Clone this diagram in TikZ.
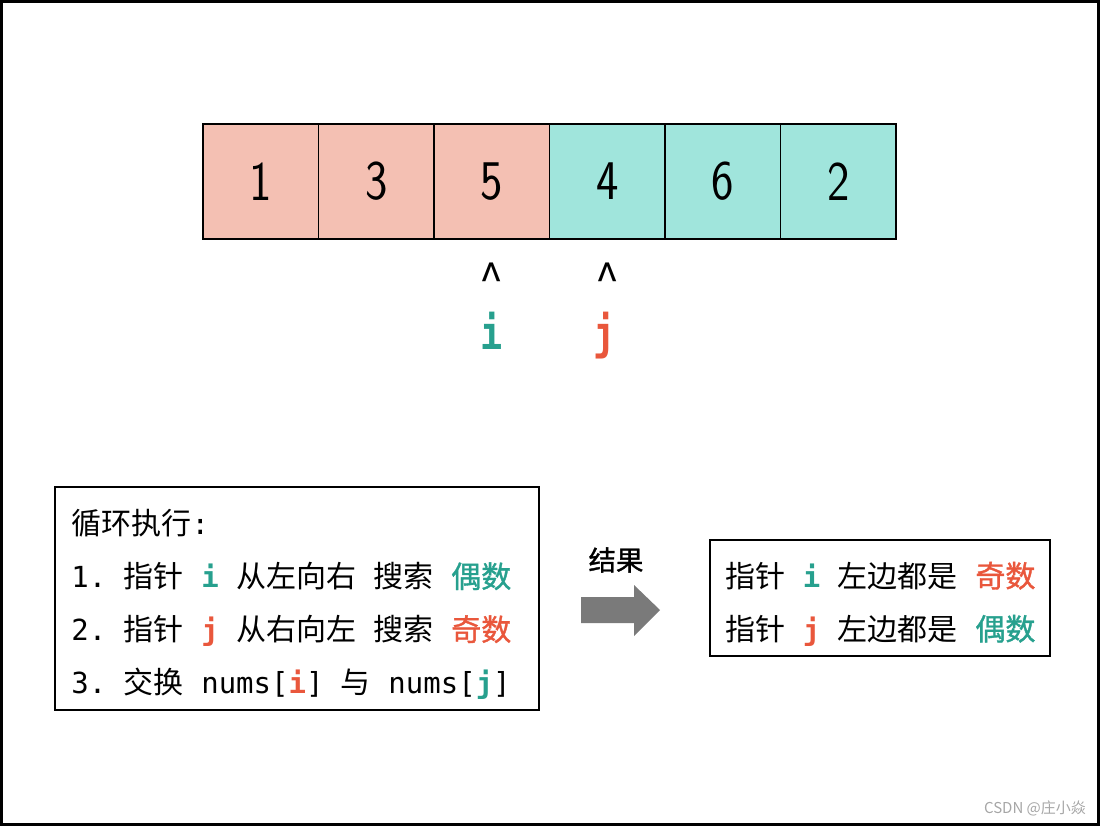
\documentclass[tikz,border=0pt]{standalone}
\usepackage{fontspec}
\usepackage{graphicx}
\setmonofont{DejaVu Sans Mono}
\newfontfamily\zhfont[Scale=1.035]{Noto Sans CJK SC}
\newfontfamily\zhbold[Scale=1.035,FakeBold=1.2]{Noto Sans CJK SC}
\newfontfamily\wmfont{Noto Sans CJK SC}

\definecolor{oddfill}{HTML}{F4C0B3}
\definecolor{evenfill}{HTML}{A0E5DC}
\definecolor{tealtxt}{HTML}{27A08E}
\definecolor{orangetxt}{HTML}{E9573C}
\definecolor{arrowgray}{HTML}{7A7A7A}

\newcommand{\zh}[1]{{\zhfont #1}}
\newcommand{\zhc}[2]{{\zhbold\color{#1}#2}}
\newcommand{\ptr}[2]{{\bfseries\color{#1}#2}}

\tikzset{
  cell/.style={draw, line width=1.5pt, minimum width=115.5pt, minimum height=115pt,
    inner sep=0pt, font=\fontsize{56}{56}\selectfont\sffamily},
  frame/.style={draw, line width=1.5pt, inner sep=0pt},
  lines/.style={align=left, inner sep=0pt, font=\fontsize{29}{53}\selectfont\ttfamily},
}

\begin{document}
\begin{tikzpicture}[x=1pt,y=-1pt]
  \useasboundingbox (0,0) rectangle (1100,826);
  % Marco exterior
  \draw[line width=3pt] (1.5,1.5) rectangle (1098.5,824.5);

  % Dibujar el arreglo
  \foreach \v/\col [count=\k] in {1/oddfill,3/oddfill,5/oddfill,4/evenfill,6/evenfill,2/evenfill}
    \node (c\k) [cell, fill=\col] at ({203+115.5*(\k-0.5)},181.5) {\scalebox{0.85}[1]{\v}};

  % Punteros i y j
  \node (capi) [anchor=base, font=\fontsize{42}{42}\selectfont\zhfont] at (c3.center |- 0,296) {\textasciicircum};
  \node (capj) [anchor=base, font=\fontsize{42}{42}\selectfont\zhfont] at (c4.center |- 0,296) {\textasciicircum};
  \node (ptri) [anchor=base, font=\fontsize{46}{46}\selectfont\ttfamily\bfseries, text=tealtxt] at (492,349) {\scalebox{0.8}[1]{i}};
  \node (ptrj) [anchor=base, font=\fontsize{46}{46}\selectfont\ttfamily\bfseries, text=orangetxt] at (605,349) {\scalebox{0.8}[1]{j}};

  % Recuadro de pasos
  \node (stepsbox) [frame, minimum width=484pt, minimum height=223pt] at (297,598.5) {};
  \node (steps) [lines, anchor=west] at ([xshift=17pt,yshift=-6pt]stepsbox.west) {%
    \zh{循环执行}:\\
    1. \zh{指针} \ptr{tealtxt}{i} \zh{从左向右} \zh{搜索} \zhc{tealtxt}{偶数}\\
    2. \zh{指针} \ptr{orangetxt}{j} \zh{从右向左} \zh{搜索} \zhc{orangetxt}{奇数}\\
    3. \zh{交换} nums[\ptr{orangetxt}{i}] \zh{与} nums[\ptr{tealtxt}{j}]};

  % Flecha de resultado
  \node (result) [font=\fontsize{26.5}{26.5}\selectfont\zhbold] at (616,560) {结果};
  \fill[arrowgray] (581,597) -- (634,597) -- (634,585) -- (660,610) -- (634,636) -- (634,623) -- (581,623) -- cycle;

  % Recuadro final
  \node (finalbox) [frame, minimum width=340pt, minimum height=116pt] at (880,598) {};
  \node (final) [lines, anchor=west] at ([xshift=16pt,yshift=-6pt]finalbox.west) {%
    \zh{指针} \ptr{tealtxt}{i} \zh{左边都是} \zhc{orangetxt}{奇数}\\
    \zh{指针} \ptr{orangetxt}{j} \zh{左边都是} \zhc{tealtxt}{偶数}};

  % Marca de agua
  \node (mark) [font=\fontsize{15}{15}\selectfont\wmfont, text=black!35] at (1035,808) {CSDN @庄小焱};
\end{tikzpicture}
\end{document}
